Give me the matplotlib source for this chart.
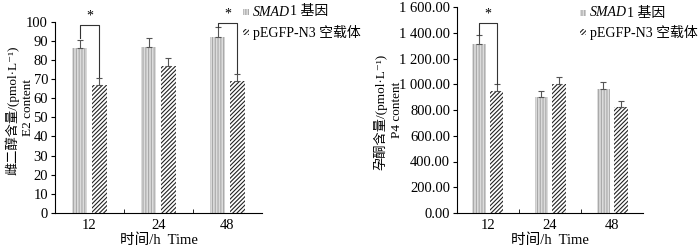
import matplotlib
matplotlib.use("Agg")
import matplotlib.pyplot as plt
import numpy as np
from matplotlib.patches import Rectangle

plt.rcParams["font.family"] = ["Liberation Serif", "Noto Sans CJK SC", "DejaVu Serif"]
plt.rcParams["hatch.linewidth"] = 0.8

W, H = 700, 248
FS = 10.5

times = ["12", "24", "48"]

e2_smad = [86, 87, 92]
e2_smad_err = [4.5, 4.5, 5]
e2_ctrl = [67, 77, 69]
e2_ctrl_err = [3.5, 4.0, 3.5]

p4_smad = [1310, 900, 965]
p4_smad_err = [70, 50, 50]
p4_ctrl = [945, 1005, 825]
p4_ctrl_err = [55, 55, 45]

e2_ticks = list(range(0, 101, 10))
p4_ticks = [0, 200, 400, 600, 800, 1000, 1200, 1400, 1600]

# (category index, bracket top, left leg bottom, right leg bottom)
e2_sig = [(0, 98.5, 91.5, 71), (2, 99.5, 97, 73)]
p4_sig = [(0, 1475, 1385, 1005)]

SMAD_STYLE = dict(facecolor="#dcdcdc", edgecolor="#a8a8a8", hatch="||||||", linewidth=0)
CTRL_STYLE = dict(facecolor="white", edgecolor="#222222", hatch="////////", linewidth=0)


def fmt_p4(v):
    return f"{v:,.2f}".replace(",", " ")


def draw(ax, smad, smad_err, ctrl, ctrl_err, ymax, ticks, ticklabels, sig):
    x = np.arange(len(times))
    off, w = 0.14, 0.22
    ax.bar(x - off, smad, w, **SMAD_STYLE)
    ax.bar(x + off, ctrl, w, **CTRL_STYLE)
    ax.errorbar(x - off, smad, yerr=[np.zeros(3), smad_err], fmt="none",
                ecolor="#555555", elinewidth=0.8, capsize=2, capthick=0.8)
    ax.errorbar(x + off, ctrl, yerr=[np.zeros(3), ctrl_err], fmt="none",
                ecolor="#555555", elinewidth=0.8, capsize=2, capthick=0.8)
    for i, top, lb, rb in sig:
        ax.plot([i - off, i - off, i + off, i + off], [lb, top, top, rb],
                color="#333333", lw=0.8, clip_on=False)
        ax.text(i, top + ymax * 0.012, "*", ha="center", va="bottom",
                fontsize=10, clip_on=False)

    ax.set_xlim(-0.5, len(times) - 0.5)
    ax.set_ylim(0, ymax)
    ax.set_yticks(ticks)
    ax.set_yticklabels(ticklabels, fontsize=FS)
    ax.set_xticks(x)
    ax.set_xticklabels(times, fontsize=FS)
    ax.tick_params(axis="x", length=0, pad=4)
    ax.set_xticks([0.5, 1.5], minor=True)
    ax.tick_params(axis="x", which="minor", direction="in", length=3)
    ax.tick_params(axis="y", length=3, width=0.8, pad=2)
    for s in ["top", "right"]:
        ax.spines[s].set_visible(False)
    for s in ["left", "bottom"]:
        ax.spines[s].set_linewidth(0.8)
    ax.set_xlabel("时间/h  Time", fontsize=FS, labelpad=1)


def legend(fig, ax, px, rows_y):
    # hand-built legend so SMAD can be italic next to CJK text
    for yy, style in zip(rows_y, [SMAD_STYLE, CTRL_STYLE]):
        fig.add_artist(Rectangle((px / W, 1 - (yy + 3) / H), 6 / W, 6 / H,
                                 transform=fig.transFigure, **style))
    t = fig.text((px + 10) / W, 1 - rows_y[0] / H, "SMAD", style="italic",
                 fontsize=10, va="center")
    ax.annotate("1 基因", xy=(1, 0.5), xycoords=t, va="center", ha="left",
                fontsize=10, annotation_clip=False)
    fig.text((px + 10) / W, 1 - rows_y[1] / H, "pEGFP-N3 空载体",
             fontsize=10, va="center")


fig = plt.figure(figsize=(7, 2.48), dpi=100)
ax1 = fig.add_axes([55 / W, 1 - 213 / H, 207 / W, 191.3 / H])
ax2 = fig.add_axes([457 / W, 1 - 213 / H, 186 / W, 206 / H])

draw(ax1, e2_smad, e2_smad_err, e2_ctrl, e2_ctrl_err, 100, e2_ticks,
     [str(t) for t in e2_ticks], e2_sig)
draw(ax2, p4_smad, p4_smad_err, p4_ctrl, p4_ctrl_err, 1600, p4_ticks,
     [fmt_p4(t) for t in p4_ticks], p4_sig)

fig.text(12 / W, 1 - 110 / H, "雌二醇含量/(pmol·L⁻¹)", rotation=90,
         ha="center", va="center", fontsize=9.5)
fig.text(28 / W, 1 - 107 / H, "E2 content", rotation=90,
         ha="center", va="center", fontsize=9.5)
fig.text(380 / W, 1 - 112 / H, "孕酮含量/(pmol·L⁻¹)", rotation=90,
         ha="center", va="center", fontsize=9.5)
fig.text(397 / W, 1 - 110 / H, "P4 content", rotation=90,
         ha="center", va="center", fontsize=9.5)

legend(fig, ax1, 243, [12, 32])
legend(fig, ax2, 580, [13, 32])

fig.savefig("out.png", dpi=100)
